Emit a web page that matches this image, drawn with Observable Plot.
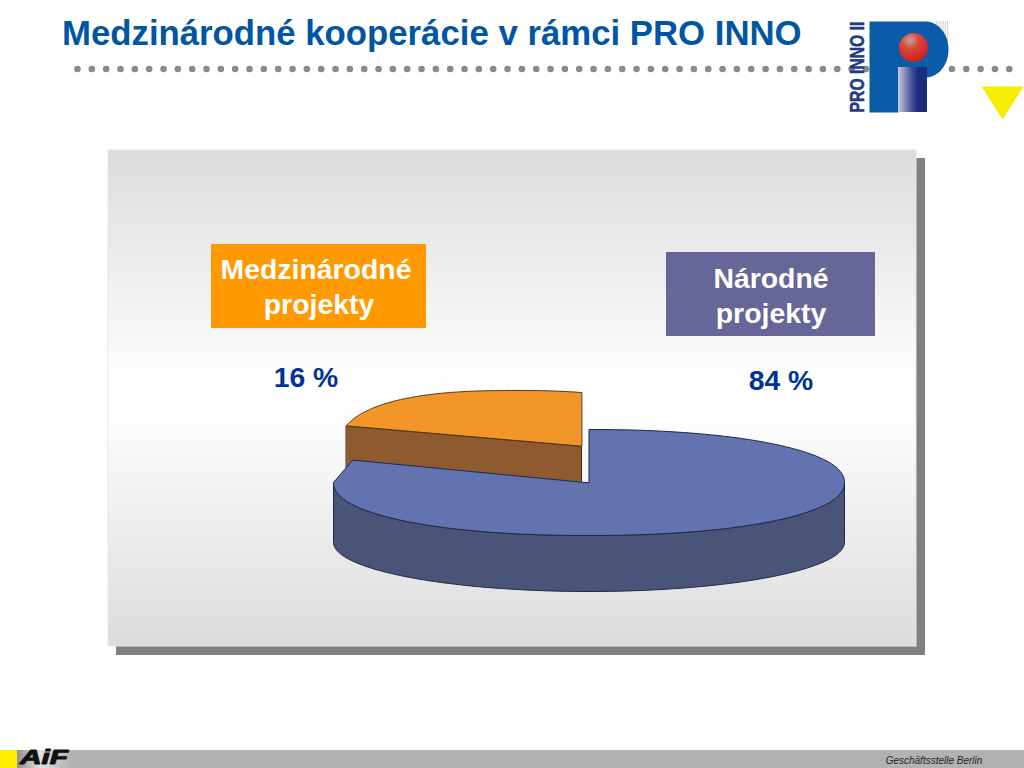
<!DOCTYPE html>
<html><head><meta charset="utf-8">
<style>html,body{margin:0;padding:0;background:#fff;overflow:hidden}svg{display:block}</style>
<script src="https://cdn.jsdelivr.net/npm/d3@7"></script>
<script src="https://cdn.jsdelivr.net/npm/@observablehq/plot@0.6"></script>
</head><body><div id="chart"></div>
<script>
// Data
const categories = ["Medzinárodné projekty", "Národné projekty"];
const statedPercent = ["16 %", "84 %"];
const drawnShare = [18.6, 81.4]; // share of the circle each slice really sweeps in the picture
const titleText = "Medzinárodné kooperácie v rámci PRO INNO";
const footerText = "Geschäftsstelle Berlin";
const logoText = "PRO INNO II";
const brandText = "AiF";

// Layout (pixel space of the slide)
const font = "'Liberation Sans', Arial, sans-serif";
const pie = {cx: 588.5, cy: 482, rx: 255.5, ry: 53, p: 2.15};
const rad = d => d * Math.PI / 180;
const spow = (v, e) => Math.sign(v) * Math.pow(Math.abs(v), e);
const ell = deg => ({x: pie.cx + pie.rx * spow(Math.sin(rad(deg)), 2 / pie.p), y: pie.cy - pie.ry * spow(Math.cos(rad(deg)), 2 / pie.p)});
const sweep = (f, a0, a1, n = 160) => d3.range(n + 1).map(i => f(a0 + (a1 - a0) * i / n));

const orangeSweep = drawnShare[0] * 3.6, blueSweep = drawnShare[1] * 3.6;

// orange slice: pulled out up and left; its rim bulges as in the picture
const oC = {x: 581, y: 445.7}, oDepth = 56;
const oRim = deg => {
  const x = oC.x + pie.rx * Math.sin(rad(deg));
  const t = Math.min(1, Math.abs(x - 515) / 176.5);
  return {x, y: 449 - 59 * Math.pow(1 - Math.pow(t, 2.5), 0.4)};
};
const orangeTop = [oC, ...sweep(oRim, -orangeSweep, 0)];
const oL = oRim(-orangeSweep);
const orangeFace = [oL, oC, {x: oC.x, y: oC.y + oDepth}, {x: oL.x, y: oL.y + oDepth}];

// blue slice: the rim stops at the left extreme and runs straight to the cut
const blueTop = [{x: pie.cx, y: pie.cy}, ...sweep(ell, 0, 270), ell(blueSweep)];
const wallBottom = deg => ({x: pie.cx + pie.rx * Math.sin(rad(deg)), y: 542 - 49 * Math.cos(rad(deg))});
const blueSide = [...sweep(ell, 90, 270), ...sweep(wallBottom, 270, 90)];

const dots = d3.range(66).map(i => ({x: 77 + i * 14.335, y: 68.5}));
const bowl = d3.range(0, 41).map(i => { const a = i / 40 * Math.PI; return {x: 925 + 23 * Math.sin(a), y: 49 - 28 * Math.cos(a)}; });
const logoP = [{x: 869, y: 21}, ...bowl, {x: 898, y: 77}, {x: 898, y: 112}, {x: 869, y: 112}];
const tri = [{x: 981, y: 86}, {x: 1023, y: 86}, {x: 1002, y: 119}];
const stripes = d3.range(6).map(i => 936 + i * 2.2);

const poly = (pts, fill, stroke, w = 1) => Plot.line(pts, {x: "x", y: "y", curve: "linear-closed", fill, stroke: stroke || "none", strokeWidth: w, strokeLinejoin: "round"});
const box = (x1, x2, y1, y2, fill, o = {}) => Plot.rect([{x1, x2, y1, y2}], {x1: "x1", x2: "x2", y1: "y1", y2: "y2", fill, inset: 0, ...o});
const label = (text, x, y, size, fill, o = {}) => Plot.text([text], {x: () => x, y: () => y, text: d => d, fontSize: size, fontWeight: "bold", fill, fontFamily: font, textAnchor: "middle", lineAnchor: "middle", ...o});

const defs = () => {
  const d = d3.create("svg:defs");
  const lin = (id, x2, y2, stops) => {
    const g = d.append("linearGradient").attr("id", id).attr("x1", 0).attr("y1", 0).attr("x2", x2).attr("y2", y2);
    stops.forEach(([o, c]) => g.append("stop").attr("offset", o).attr("stop-color", c));
  };
  lin("panelG", 0, 1, [[0, "#dcdcdc"], [0.47, "#ffffff"], [0.52, "#ffffff"], [1, "#dcdcdc"]]);
  lin("stemG", 1, 0, [[0, "#c9c9e0"], [0.5, "#3d4a96"], [0.7, "#1c2c7c"], [1, "#1c2c7c"]]);
  lin("brandG", 1, 0, [[0, "#8f8f8f"], [0.45, "#e2e2e2"], [1, "#b2b2b2"]]);
  const r = d.append("radialGradient").attr("id", "ballG").attr("cx", 0.38).attr("cy", 0.25).attr("r", 0.75);
  [[0, "#c9a3a0"], [0.4, "#d8483c"], [1, "#d01f1a"]].forEach(([o, c]) => r.append("stop").attr("offset", o).attr("stop-color", c));
  return d.node();
};

const chart = Plot.plot({
  width: 1024, height: 768, margin: 0,
  x: {domain: [0, 1024], range: [0, 1024], axis: null},
  y: {domain: [0, 768], range: [0, 768], axis: null},
  style: {background: "#fff", fontFamily: font},
  marks: [
    defs,
    // header
    Plot.dot(dots, {x: "x", y: "y", r: 3.3, fill: "#8a8a8a", stroke: "none"}),
    label(titleText, 61.5, 33.5, 34.75, "#0056a2", {textAnchor: "start"}),
    // logo
    Plot.ruleX(stripes, {y1: 21, y2: 46, stroke: "#cfcfcf", strokeWidth: 1}),
    poly(logoP, "#0a5ba8"),
    box(898, 927, 67, 112, "url(#stemG)"),
    Plot.dot([0], {x: () => 913, y: () => 47, r: 14.5, fill: "url(#ballG)", stroke: "none"}),
    label(logoText, 857.5, 66.5, 20, "#1f3a86", {rotate: -90, stroke: "#1f3a86", strokeWidth: 0.5}),
    poly(tri, "#f6ee00"),
    // panel
    box(116, 925, 158, 655, "#808080"),
    box(108, 916, 150, 646, "url(#panelG)", {stroke: "#e8e8e8", strokeWidth: 1}),
    // 3-D pie
    poly(orangeFace, "#8f5a30", "#3d2a14"),
    poly(orangeTop, "#f29629", "#4a3414"),
    poly(blueSide, "#4a5478", "#1e2848"),
    poly(blueTop, "#6373b0", "#1e2848"),
    // labels
    box(211, 426, 244, 328, "#ff9900"),
    label("Medzinárodné", 315.5, 269, 28.4, "#fff"),
    label("projekty", 318.5, 304, 28.4, "#fff"),
    box(666, 875, 252, 336, "#666699"),
    label("Národné", 770.5, 278, 28.4, "#fff"),
    label("projekty", 770.5, 313, 28.4, "#fff"),
    label(statedPercent[0], 305.5, 377, 28.3, "#003399"),
    label(statedPercent[1], 780.5, 380, 28.3, "#003399"),
    // footer
    box(0, 1024, 750, 768, "#b2b2b2"),
    box(0, 17, 750, 768, "#ffee00"),
    box(17, 70, 750, 768, "url(#brandG)"),
    label(brandText, 43.5, 757.5, 19.5, "#111", {fontStyle: "italic", fontWeight: 900, stroke: "#111", strokeWidth: 1}),
    label(footerText, 933.5, 760, 10, "#222", {fontWeight: "normal", fontStyle: "italic"})
  ]
});
// squeeze the logo lettering and stretch the brand lettering to the reference's widths
d3.select(chart).selectAll("text").each(function () {
  const t = this.textContent, tr = this.getAttribute("transform") || "";
  if (t === logoText) this.setAttribute("transform", tr + " scale(0.786,1)");
  if (t === brandText) this.setAttribute("transform", tr + " scale(1.53,1)");
});
document.getElementById("chart").append(chart);
</script></body></html>
